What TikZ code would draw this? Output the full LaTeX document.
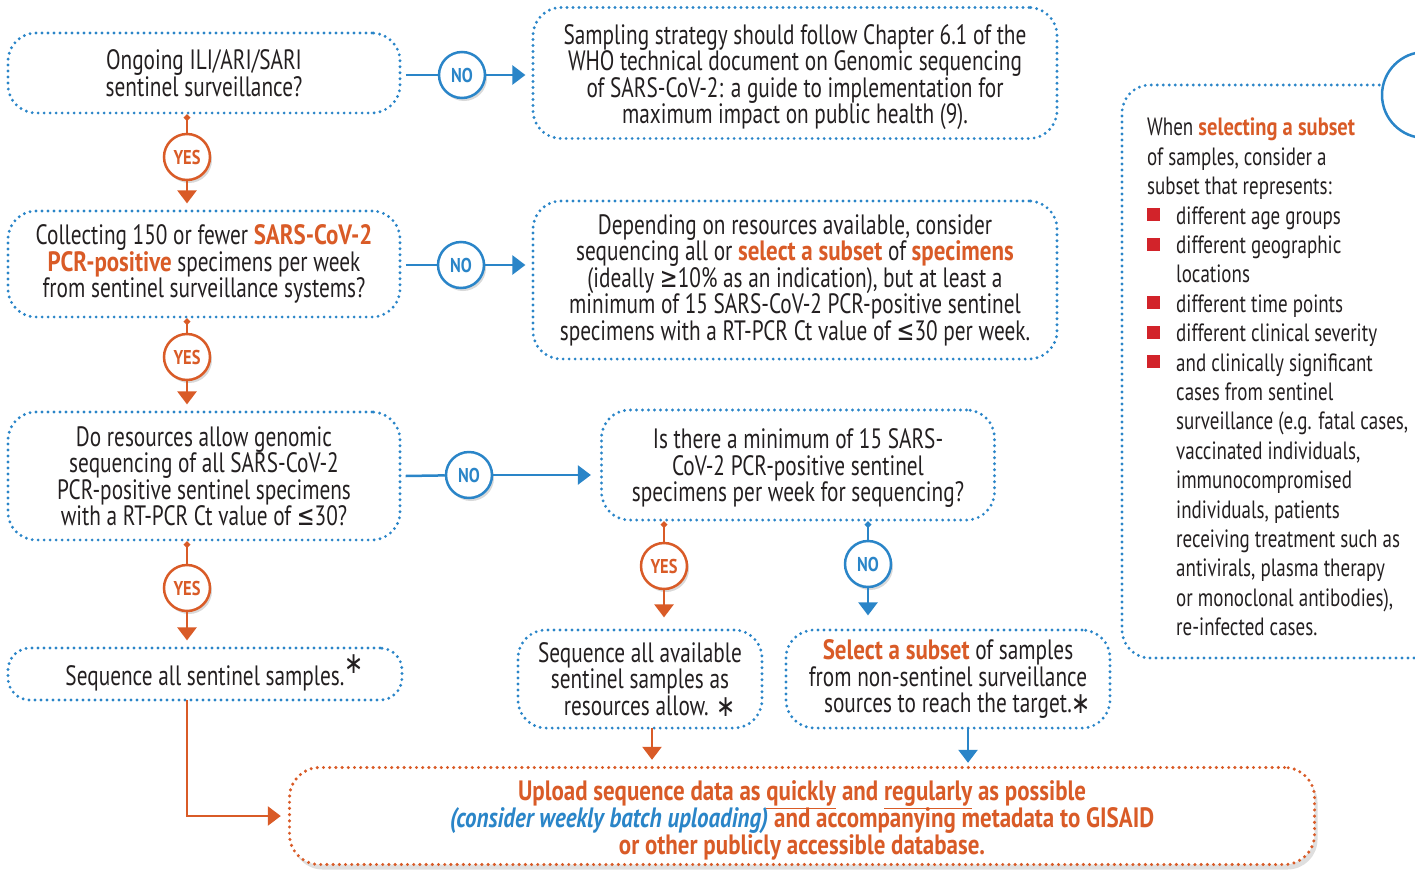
\documentclass[tikz,border=0pt]{standalone}
\usepackage{fontspec}
\setmainfont{PT Sans}[FakeStretch=0.76,
  BoldFeatures={FakeStretch=0.82}, BoldItalicFeatures={FakeStretch=0.82}]
\newfontfamily\symfont{DejaVu Sans}[FakeStretch=0.76]
\usetikzlibrary{arrows.meta,shadows,calc}

\definecolor{ink}{HTML}{231F20}
\definecolor{whoblue}{HTML}{2A85C8}
\definecolor{whoorange}{HTML}{D95B27}
\definecolor{bulletred}{HTML}{D2232A}

\newcommand\mainsize{\fontsize{28}{26.5}\selectfont}
\newcommand\sidesize{\fontsize{25}{29.4}\selectfont}
\newcommand\hl[1]{{\bfseries\color{whoorange}#1}}
\newcommand\ul[1]{\smash{\underline{#1}}}
\newcommand\bigast[1][0pt]{\rlap{\smash{\raisebox{#1}{\symfont\fontsize{30}{30}\selectfont ∗}}}}
\newcommand\sqbullet{\makebox[29pt][l]{\textcolor{bulletred}{\rule[3pt]{13pt}{13pt}}}}
\newcommand\indentline{\hspace*{29pt}}

\tikzset{
  dotbox/.style={draw=whoblue, line width=3.2pt, dash pattern=on 0pt off 6pt,
    line cap=round, rounded corners=28pt, align=center, font=\mainsize,
    text=ink, inner sep=0pt},
  dotline/.style={draw=whoblue, line width=3.2pt, dash pattern=on 0pt off 6pt,
    line cap=round},
  answer/.style={circle, line width=2.5pt, fill=white, minimum size=46pt,
    inner sep=0pt, font=\bfseries\fontsize{20}{20}\selectfont,
    drop shadow={opacity=0.3, shadow xshift=2pt, shadow yshift=-3pt}},
  yesc/.style={answer, draw=whoorange, text=whoorange},
  noc/.style={answer, draw=whoblue, text=whoblue},
  oline/.style={draw=whoorange, line width=2.5pt},
  bline/.style={draw=whoblue, line width=2.5pt},
  tip/.style={-{Triangle[width=19pt,length=13pt]}},
  dotstart/.style={{Circle[length=6pt]}-},
}

\begin{document}
\begin{tikzpicture}[x=1pt, y=-1pt]
\useasboundingbox (0,0) rectangle (1415,878);
\clip (0,0) rectangle (1415,878);

% decision and action boxes
\node[dotbox, minimum width=392pt, minimum height=80pt] (A) at (204,73)
  {Ongoing ILI/ARI/SARI\\sentinel surveillance?};
\node[dotbox, minimum width=524pt, minimum height=131pt] (B) at (795,73)
  {\rule{0pt}{28pt}Sampling strategy should follow Chapter 6.1 of the\\
   WHO technical document on Genomic sequencing\\
   of SARS-CoV-2: a guide to implementation for\\
   maximum impact on public health (9).};
\node[dotbox, minimum width=392pt, minimum height=106pt] (C) at (204,264)
  {Collecting 150 or fewer \hl{SARS-CoV-2}\\
   \hl{PCR-positive} specimens per week\\
   from sentinel surveillance systems?};
\node[dotbox, minimum width=524pt, minimum height=158pt] (D) at (795,280)
  {Depending on resources available, consider\\
   sequencing all or \hl{select a subset} of \hl{specimens}\\
   (ideally {\symfont ≥}10\% as an indication), but at least a\\
   minimum of 15 SARS-CoV-2 PCR-positive sentinel\\
   specimens with a RT-PCR Ct value of {\symfont ≤}30 per week.};
\node[dotbox, minimum width=392pt, minimum height=128pt] (E) at (204,476)
  {Do resources allow genomic\\
   sequencing of all SARS-CoV-2\\
   PCR-positive sentinel specimens\\
   with a RT-PCR Ct value of {\symfont ≤}30?};
\node[dotbox, minimum width=393pt, minimum height=110pt] (F) at (798,465)
  {\rule{0pt}{26pt}Is there a minimum of 15 SARS-\\
   CoV-2 PCR-positive sentinel\\
   specimens per week for sequencing?};
\node[dotbox, minimum width=394pt, minimum height=52pt, rounded corners=22pt] (G) at (205,674)
  {\rule{0pt}{29pt}Sequence all sentinel samples.\bigast[12pt]};
\node[dotbox, minimum width=244pt, minimum height=98pt] (H) at (640,679)
  {Sequence all available\\
   sentinel samples as\\
   resources allow. \bigast[-1pt]};
\node[dotbox, minimum width=324pt, minimum height=98pt] (I) at (948,679)
  {\hl{Select a subset} of samples\\
   from non-sentinel surveillance\\
   sources to reach the target.\bigast[-1pt]};
\node[dotbox, draw=whoorange, line width=3.4pt, dash pattern=on 0pt off 6.2pt,
      minimum width=1025pt, minimum height=97pt, rounded corners=30pt,
      font=\fontsize{28}{25}\selectfont\bfseries, text=whoorange, fill=white,
      drop shadow={opacity=0.25, shadow xshift=3pt, shadow yshift=-5pt}] (J) at (802,816)
  {\rule{0pt}{29pt}Upload sequence data as \ul{quickly} and \ul{regularly} as possible\\
   {\color{whoblue}\itshape (consider weekly batch uploading)} and accompanying metadata to GISAID\\
   or other publicly accessible database.};

% answer badges
\node[noc]  (noA)  at (462,75)  {NO};
\node[yesc] (yesA) at (187,157) {YES};
\node[noc]  (noC)  at (461,265) {NO};
\node[yesc] (yesC) at (187,357) {YES};
\node[noc]  (noE)  at (469,475) {NO};
\node[yesc] (yesE) at (187,588) {YES};
\node[yesc] (yesF) at (664,566) {YES};
\node[noc]  (noF)  at (868,564) {NO};

% connectors
\draw[bline] ([xshift=4pt]A.east |- noA) -- (noA);
\draw[bline, tip, shorten >=6pt] (noA) -- (noA -| B.west);
\draw[oline, dotstart] (yesA |- A.south) -- (yesA);
\draw[oline, tip, shorten >=6pt] (yesA) -- (yesA |- C.north);

\draw[bline] ([xshift=4pt]C.east |- noC) -- (noC);
\draw[bline, tip, shorten >=6pt] (noC) -- (noC -| D.west);
\draw[oline, dotstart] (yesC |- C.south) -- (yesC);
\draw[oline, tip, shorten >=6pt] (yesC) -- (yesC |- E.north);

\draw[bline] ([xshift=4pt]E.east) -- (noE);
\draw[bline, tip, shorten >=9pt] (noE) -- (noE -| F.west);
\draw[oline, dotstart] (yesE |- E.south) -- (yesE);
\draw[oline, tip, shorten >=6pt] (yesE) -- (yesE |- G.north);

\draw[oline, dotstart] (yesF |- F.south) -- (yesF);
\draw[oline, tip, shorten >=11pt] (yesF) -- (yesF |- H.north);
\draw[bline, dotstart] (noF |- F.south) -- (noF);
\draw[bline, tip, shorten >=13pt] (noF) -- (noF |- I.north);

\coordinate (hOut) at (652,728);
\coordinate (iOut) at (968,728);
\coordinate (gOut) at (187,700);
\draw[oline, dotstart, tip, shorten >=6pt] (hOut) -- (hOut |- J.north);
\draw[bline, dotstart, tip, shorten >=3pt] (iOut) -- (iOut |- J.north);
\draw[oline, dotstart, tip, shorten >=7pt] (gOut) |- (J.west);

% side panel with selection criteria
\draw[dotline, rounded corners=28pt] (1420,658) -- (1122,658) -- (1122,85) -- (1385,85);
\draw[whoblue, line width=2.5pt, fill=white] (1425,95) circle (43pt);
\node[anchor=north west, align=left, font=\sidesize, text=ink, inner sep=0pt] (side) at (1147,118)
  {When \hl{selecting a subset}\\
   of samples, consider a\\
   subset that represents:\\
   \sqbullet different age groups\\
   \sqbullet different geographic\\
   \indentline locations\\
   \sqbullet different time points\\
   \sqbullet different clinical severity\\
   \sqbullet and clinically significant\\
   \indentline cases from sentinel\\
   \indentline surveillance (e.g. fatal cases,\\
   \indentline vaccinated individuals,\\
   \indentline immunocompromised\\
   \indentline individuals, patients\\
   \indentline receiving treatment such as\\
   \indentline antivirals, plasma therapy\\
   \indentline or monoclonal antibodies),\\
   \indentline re-infected cases.};
\end{tikzpicture}
\end{document}
